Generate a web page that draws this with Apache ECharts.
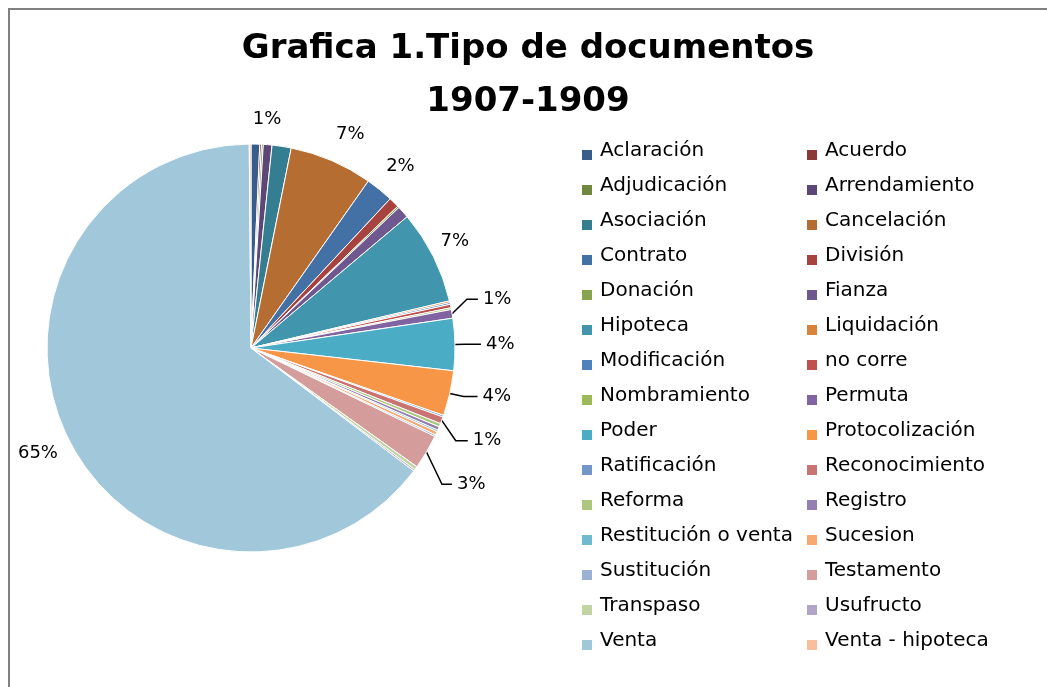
<!DOCTYPE html>
<html>
<head>
<meta charset="utf-8">
<script src="https://cdn.jsdelivr.net/npm/echarts@6/dist/echarts.min.js"></script>
<style>
  html, body { margin: 0; padding: 0; background: #fff; overflow: hidden; width: 1047px; height: 687px; }
  #hline { position: absolute; left: 8px; top: 8px; width: 1039px; height: 2px; background: #808080; }
  #vline { position: absolute; left: 8px; top: 8px; width: 2px; height: 679px; background: #808080; }
  #chart { position: absolute; left: 0; top: 0; width: 1047px; height: 687px; }
</style>
</head>
<body>
<div id="hline"></div>
<div id="vline"></div>
<div id="chart"></div>
<script>
const titleText = 'Grafica 1.Tipo de documentos\n1907-1909';
const categories = ['Aclaración','Acuerdo','Adjudicación','Arrendamiento','Asociación','Cancelación','Contrato','División','Donación','Fianza','Hipoteca','Liquidación','Modificación','no corre','Nombramiento','Permuta','Poder','Protocolización','Ratificación','Reconocimiento','Reforma','Registro','Restitución o venta','Sucesion','Sustitución','Testamento','Transpaso','Usufructo','Venta','Venta - hipoteca'];
const values = [5,1,1,5,11,48,16,6,1,7,54,1,1,2,1,5,30,26,1,4,2,2,1,2,1,20,2,1,470,1];
const colors = ['#385D8A','#8C3836','#71893F','#5C4776','#357D91','#B66D31',
                '#4371A6','#A7423F','#88A44E','#6F578F','#4195AD','#D88337',
                '#4F81BD','#C0504D','#9BBB59','#8064A2','#4BACC6','#F79646',
                '#7396C9','#C97472','#AEC77E','#957FB2','#6EBAD1','#F8A870',
                '#9CB1D6','#D49C9B','#C2D4A3','#B2A4C7','#A0C8DA','#F9BE9A'];
// labelled slices: [showLine, length, length2, vertical shift of label end]
const labelled = {
  'Arrendamiento': [false, 25, -22, 0],
  'Cancelación': [false, 29, -12, 0],
  'Contrato': [false, 29.5, -17, 0],
  'Hipoteca': [false, 34, -28, 0],
  'Permuta': [true, 15, 11, -12],
  'Poder': [true, 10, 16, 0],
  'Protocolización': [true, 14, 14, 0],
  'Reconocimiento': [true, 15, 12, 15],
  'Testamento': [true, 18, 10, 23],
  'Venta': [false, 30, -21, 0]
};

const data = categories.map((name, i) => {
  const item = { name: name, value: values[i], itemStyle: { color: colors[i] } };
  const l = labelled[name];
  if (l) {
    item.label = { show: true };
    item.labelLine = { show: l[0], length: l[1], length2: l[2] };
  }
  return item;
});

const chart = echarts.init(document.getElementById('chart'), null, { renderer: 'canvas' });
chart.setOption({
  backgroundColor: 'transparent',
  animation: false,
  title: {
    text: titleText,
    left: 523,
    textAlign: 'center',
    top: 18,
    textStyle: { fontFamily: 'DejaVu Sans', fontWeight: 'bold', fontSize: 34, lineHeight: 53, color: '#000' }
  },
  legend: {
    orient: 'horizontal',
    left: 580,
    top: 138.5,
    width: 456,
    padding: 0,
    itemWidth: 12,
    itemHeight: 20,
    itemGap: 10,
    icon: 'path://M0,0M0,8L12,8L12,20L0,20Z',
    selectedMode: false,
    data: categories,
    textStyle: { fontFamily: 'DejaVu Sans', fontSize: 20, color: '#000', width: 195, lineHeight: 25, padding: [0, 0, 0, 2] }
  },
  series: [{
    type: 'pie',
    center: [251, 348],
    radius: 204,
    startAngle: 90,
    clockwise: true,
    avoidLabelOverlap: false,
    data: data,
    itemStyle: { borderColor: '#fff', borderWidth: 1 },
    label: {
      show: false,
      position: 'outside',
      fontFamily: 'DejaVu Sans',
      fontSize: 18,
      color: '#000',
      formatter: p => Math.round(p.percent) + '%'
    },
    labelLine: { show: false, lineStyle: { color: '#000', width: 1.5 } },
    labelLayout: function (params) {
      const l = labelled[categories[params.dataIndex]];
      if (!l || !l[3] || !params.labelLinePoints) return {};
      const dy = l[3];
      const pts = params.labelLinePoints;
      return {
        y: params.labelRect.y + params.labelRect.height / 2 + dy,
        labelLinePoints: [pts[0], [pts[1][0], pts[1][1] + dy], [pts[2][0], pts[2][1] + dy]]
      };
    },
    emphasis: { disabled: true }
  }]
});
</script>
</body>
</html>
